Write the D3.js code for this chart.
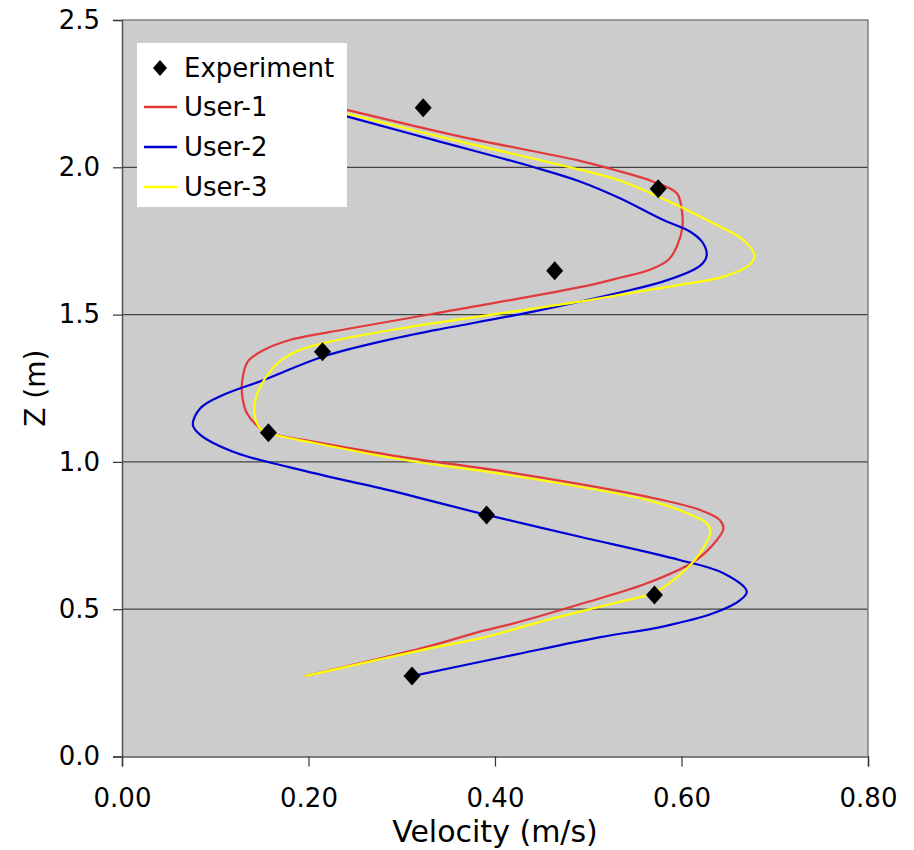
<!DOCTYPE html>
<html>
<head>
<meta charset="utf-8">
<script src="https://cdn.jsdelivr.net/npm/d3@7"></script>
<style>
  html, body { margin: 0; padding: 0; background: #fff; }
  svg { display: block; font-family: "DejaVu Sans", Verdana, sans-serif; }
</style>
</head>
<body>
<svg id="chart" width="914" height="850"></svg>
<script>
// ---- Data ----
const xTicks = [0.00, 0.20, 0.40, 0.60, 0.80];
const yTicks = [0.0, 0.5, 1.0, 1.5, 2.0, 2.5];
const seriesNames = ["Experiment", "User-1", "User-2", "User-3"];

const expV = [0.323, 0.575, 0.464, 0.215, 0.157, 0.391, 0.571, 0.311];
const expZ = [2.202, 1.927, 1.649, 1.374, 1.099, 0.820, 0.548, 0.273];

const user1V = [0.202, 0.241, 0.362, 0.491, 0.534, 0.569, 0.595, 0.600, 0.601, 0.595, 0.586, 0.566, 0.534, 0.494, 0.334, 0.241, 0.180, 0.152, 0.135, 0.129, 0.129, 0.134, 0.148, 0.157, 0.205, 0.298, 0.420, 0.563, 0.620, 0.641, 0.645, 0.638, 0.613, 0.563, 0.491, 0.420, 0.384, 0.330, 0.196];
const user1Z = [2.225, 2.195, 2.105, 2.022, 1.986, 1.952, 1.912, 1.861, 1.799, 1.731, 1.686, 1.652, 1.625, 1.595, 1.503, 1.451, 1.414, 1.380, 1.341, 1.278, 1.222, 1.165, 1.114, 1.098, 1.069, 1.018, 0.962, 0.882, 0.837, 0.803, 0.775, 0.735, 0.661, 0.588, 0.517, 0.452, 0.424, 0.375, 0.273];

const user2V = [0.202, 0.241, 0.334, 0.441, 0.491, 0.534, 0.580, 0.609, 0.623, 0.627, 0.623, 0.613, 0.580, 0.534, 0.441, 0.337, 0.298, 0.216, 0.152, 0.109, 0.084, 0.076, 0.084, 0.123, 0.177, 0.237, 0.277, 0.391, 0.491, 0.598, 0.645, 0.670, 0.663, 0.634, 0.580, 0.513, 0.420, 0.311];
const user2Z = [2.206, 2.173, 2.093, 2.001, 1.952, 1.895, 1.822, 1.782, 1.743, 1.700, 1.675, 1.652, 1.612, 1.575, 1.510, 1.448, 1.423, 1.358, 1.278, 1.228, 1.182, 1.126, 1.092, 1.030, 0.984, 0.939, 0.911, 0.820, 0.746, 0.667, 0.622, 0.560, 0.531, 0.486, 0.441, 0.405, 0.345, 0.273];

const user3V = [0.202, 0.241, 0.362, 0.491, 0.534, 0.598, 0.641, 0.666, 0.678, 0.673, 0.645, 0.598, 0.545, 0.491, 0.295, 0.216, 0.187, 0.169, 0.155, 0.144, 0.142, 0.148, 0.157, 0.205, 0.298, 0.420, 0.563, 0.606, 0.627, 0.631, 0.620, 0.606, 0.573, 0.527, 0.455, 0.384, 0.330, 0.196];
const user3Z = [2.215, 2.182, 2.088, 1.992, 1.955, 1.867, 1.799, 1.754, 1.703, 1.669, 1.629, 1.601, 1.573, 1.544, 1.451, 1.403, 1.375, 1.341, 1.290, 1.222, 1.165, 1.114, 1.098, 1.065, 1.009, 0.953, 0.871, 0.826, 0.792, 0.763, 0.690, 0.639, 0.560, 0.520, 0.463, 0.401, 0.367, 0.273];

const colors = { "User-1": "#e23a3a", "User-2": "#0000d4", "User-3": "#ffff00" };

// ---- Layout ----
const svg = d3.select("#chart");
const m = { left: 122, top: 20, right: 868, bottom: 756.5 };
const x = d3.scaleLinear().domain([0, 0.8]).range([m.left, m.right]);
const y = d3.scaleLinear().domain([0, 2.5]).range([m.bottom, m.top]);

// plot background
svg.append("rect")
  .attr("x", m.left).attr("y", m.top)
  .attr("width", m.right - m.left).attr("height", m.bottom - m.top)
  .attr("fill", "#cccccc");

// gridlines
svg.append("g").selectAll("line")
  .data(yTicks.filter(t => t > 0 && t < 2.5))
  .join("line")
  .attr("x1", m.left).attr("x2", m.right)
  .attr("y1", d => y(d)).attr("y2", d => y(d))
  .attr("stroke", "#444").attr("stroke-width", 1.2);

// frame (top / right)
svg.append("path")
  .attr("d", `M${m.left},${m.top}H${m.right}V${m.bottom}`)
  .attr("fill", "none").attr("stroke", "#808080").attr("stroke-width", 1.5);

// axes
const xAxis = d3.axisBottom(x).tickValues(xTicks).tickFormat(d3.format(".2f")).tickSizeOuter(0).tickSize(10).tickPadding(22);
const yAxis = d3.axisLeft(y).tickValues(yTicks).tickFormat(d3.format(".1f")).tickSizeOuter(0).tickSize(9).tickPadding(13);

const gx = svg.append("g").attr("transform", `translate(0,${m.bottom})`).call(xAxis);
const gy = svg.append("g").attr("transform", `translate(${m.left},0)`).call(yAxis);
[gx, gy].forEach(g => {
  g.selectAll("path.domain").attr("stroke", "#555").attr("stroke-width", 1.5);
  g.selectAll(".tick line").attr("stroke", "#333").attr("stroke-width", 1.2);
  g.selectAll("text").attr("font-size", 26).attr("fill", "#000")
    .attr("font-family", "DejaVu Sans, Verdana, sans-serif");
});

// axis titles
svg.append("text")
  .attr("x", (m.left + m.right) / 2).attr("y", 842)
  .attr("text-anchor", "middle").attr("font-size", 30).attr("fill", "#000")
  .text("Velocity (m/s)");
svg.append("text")
  .attr("transform", `translate(45,${(m.top + m.bottom) / 2}) rotate(-90)`)
  .attr("text-anchor", "middle").attr("font-size", 28).attr("fill", "#000")
  .text("Z (m)");

// lines
const line = d3.line()
  .x(d => x(d[0])).y(d => y(d[1]))
  .curve(d3.curveCatmullRom.alpha(0.5));

const users = [
  { name: "User-1", v: user1V, z: user1Z },
  { name: "User-2", v: user2V, z: user2Z },
  { name: "User-3", v: user3V, z: user3Z }
];
users.forEach(s => {
  svg.append("path")
    .datum(s.v.map((v, i) => [v, s.z[i]]))
    .attr("d", line)
    .attr("fill", "none")
    .attr("stroke", colors[s.name])
    .attr("stroke-width", 2.2)
    .attr("stroke-linejoin", "round");
});

// experiment diamonds
const diamond = "M0,-9.5L8.5,0L0,9.5L-8.5,0Z";
svg.append("g").selectAll("path")
  .data(expV.map((v, i) => [v, expZ[i]]))
  .join("path")
  .attr("d", diamond)
  .attr("transform", d => `translate(${x(d[0])},${y(d[1])})`)
  .attr("fill", "#000");

// legend
const lg = svg.append("g");
lg.append("rect")
  .attr("x", 137).attr("y", 43).attr("width", 210).attr("height", 164)
  .attr("fill", "#fff");
const rowY = [68, 107, 147, 187];
seriesNames.forEach((name, i) => {
  if (name === "Experiment") {
    lg.append("path").attr("d", "M0,-8L7,0L0,8L-7,0Z")
      .attr("transform", `translate(160,${rowY[i]})`).attr("fill", "#000");
  } else {
    lg.append("line")
      .attr("x1", 144).attr("x2", 177)
      .attr("y1", rowY[i]).attr("y2", rowY[i])
      .attr("stroke", colors[name]).attr("stroke-width", 2.5);
  }
  lg.append("text")
    .attr("x", 184).attr("y", rowY[i])
    .attr("dy", "0.36em")
    .attr("font-size", 26).attr("fill", "#000")
    .text(name);
});
</script>
</body>
</html>
